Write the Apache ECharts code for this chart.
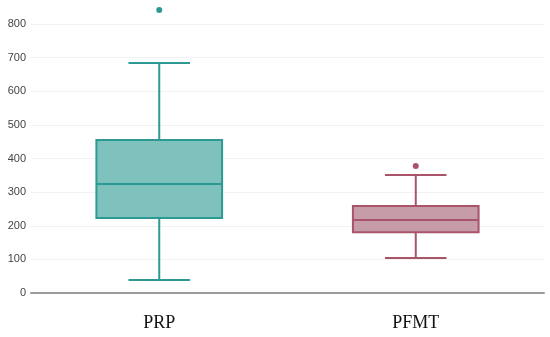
<!DOCTYPE html>
<html>
<head>
<meta charset="utf-8">
<script src="https://cdn.jsdelivr.net/npm/echarts@6/dist/echarts.min.js"></script>
<style>
  html, body { margin: 0; padding: 0; background: #fff; }
  #chart { width: 550px; height: 337px; }
</style>
</head>
<body>
<div id="chart"></div>
<script>
// groups and box stats: [min, Q1, median, Q3, max]
var categories = ['PRP', 'PFMT'];
var boxStats = [
    [39, 223, 324, 455, 684],
    [104, 181, 217, 259, 351]
];
// outliers: [category index, value]
var outliers = [
    [0, 842],
    [1, 378]
];
var yTicks = { min: 0, max: 800, interval: 100 };

var fills = ['#7fc2bd', '#c59ca7'];
var borders = ['#2c9a92', '#a9546a'];

// whiskers get narrower caps than the box, so they are drawn by a
// thin boxplot on a hidden twin axis and the box by a wide one on top
function whiskerData() {
    return boxStats.map(function (v, i) {
        return {
            value: [v[0], v[2], v[2], v[2], v[4]],
            itemStyle: { color: borders[i], borderColor: borders[i], borderWidth: 2 }
        };
    });
}
function boxData() {
    return boxStats.map(function (v, i) {
        return {
            value: [v[1], v[1], v[2], v[3], v[3]],
            itemStyle: { color: fills[i], borderColor: borders[i], borderWidth: 2 }
        };
    });
}

var chart = echarts.init(document.getElementById('chart'));

var option = {
    animation: false,
    grid: {
        left: 31,
        right: 6,
        top: 24,
        bottom: 44
    },
    xAxis: [
        {
            type: 'category',
            data: categories,
            boundaryGap: true,
            axisLine: {
                lineStyle: { color: '#9a9a9a', width: 2 }
            },
            axisTick: { show: false },
            splitLine: { show: false },
            axisLabel: {
                margin: 21,
                color: '#111',
                fontFamily: 'Liberation Serif',
                fontSize: 18
            }
        },
        {
            type: 'category',
            data: categories,
            boundaryGap: true,
            position: 'bottom',
            show: false
        }
    ],
    yAxis: {
        type: 'value',
        min: yTicks.min,
        max: yTicks.max,
        interval: yTicks.interval,
        axisLine: { show: false },
        axisTick: { show: false },
        axisLabel: {
            margin: 5,
            color: '#444',
            fontFamily: 'Liberation Sans',
            fontSize: 11
        },
        splitLine: {
            lineStyle: { color: '#f1f1f1', width: 1 }
        }
    },
    series: [
        {
            type: 'boxplot',
            xAxisIndex: 1,
            boxWidth: ['24%', '24%'],
            data: whiskerData()
        },
        {
            type: 'boxplot',
            xAxisIndex: 0,
            boxWidth: ['49%', '49%'],
            data: boxData()
        },
        {
            type: 'scatter',
            clip: false,
            symbolSize: 6,
            data: outliers.map(function (o) {
                return {
                    value: o,
                    itemStyle: { color: borders[o[0]], opacity: 1 }
                };
            })
        }
    ]
};

chart.setOption(option);
</script>
</body>
</html>
